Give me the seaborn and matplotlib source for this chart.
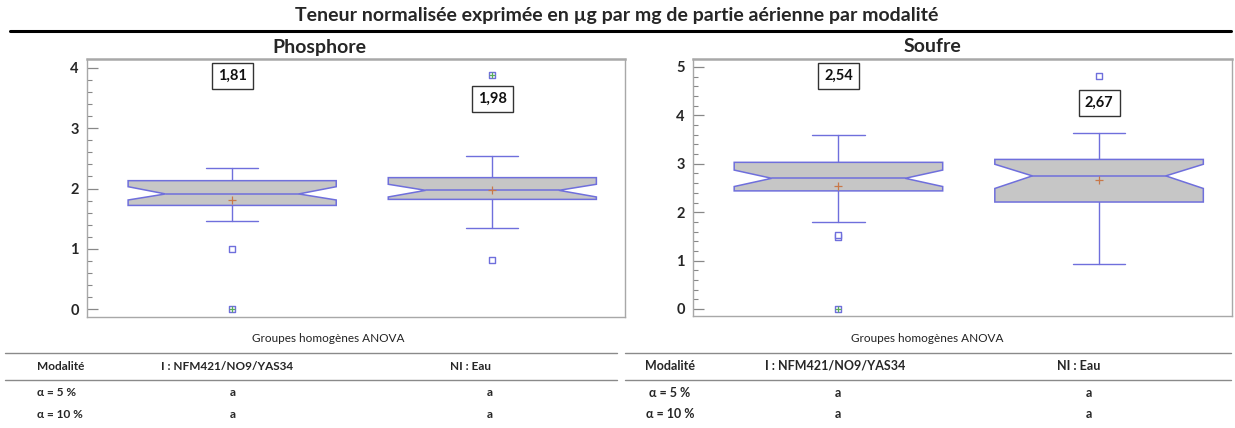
import numpy as np
import pandas as pd
import matplotlib
matplotlib.use("Agg")
import matplotlib.pyplot as plt
import seaborn as sns
from matplotlib.patches import Polygon
from matplotlib.lines import Line2D

sns.set_style("white")
plt.rcParams["font.family"] = ["Lato", "DejaVu Sans"]

# ---- data -------------------------------------------------------------
groups = ["I : NFM421/NO9/YAS34", "NI : Eau"]
positions = [1, 2]

# Phosphore
phos_q1 = [1.72, 1.82]
phos_ci_lo = [1.81, 1.86]
phos_med = [1.91, 1.97]
phos_ci_hi = [2.03, 2.07]
phos_q3 = [2.13, 2.18]
phos_whis_lo = [1.46, 1.35]
phos_whis_hi = [2.34, 2.53]
phos_mean = [1.81, 1.98]
phos_out = [[1.0], [0.82]]
phos_far = [[0.0], [3.88]]
phos_label_y = [3.86, 3.48]

# Soufre
souf_q1 = [2.44, 2.21]
souf_ci_lo = [2.53, 2.49]
souf_med = [2.70, 2.75]
souf_ci_hi = [2.87, 2.99]
souf_q3 = [3.03, 3.09]
souf_whis_lo = [1.80, 0.93]
souf_whis_hi = [3.60, 3.63]
souf_mean = [2.54, 2.67]
souf_out = [[1.48, 1.53], [4.82]]
souf_far = [[0.0], []]
souf_label_y = [4.81, 4.26]

anova_5 = ["a", "a"]
anova_10 = ["a", "a"]

# ---- styling ----------------------------------------------------------
EDGE = "#6f6fdc"
FILL = "#c6c6c6"
MEAN_C = "#c8784a"
FAR_C = "#5aac5a"
SPINE = "#a8a8a8"
BOX_W = 0.80
NOTCH = 0.32
CAP = 0.10


def notched_box(ax, x, q1, lo, med, hi, q3, wlo, whi):
    l, r = x - BOX_W / 2, x + BOX_W / 2
    nl, nr = x - BOX_W * NOTCH, x + BOX_W * NOTCH
    xs = [l, r, r, nr, r, r, l, l, nl, l]
    ys = [q1, q1, lo, med, hi, q3, q3, hi, med, lo]
    ax.add_patch(Polygon(np.column_stack([xs, ys]), closed=True,
                         fc=FILL, ec=EDGE, lw=1.1, zorder=2))
    ax.plot([nl, nr], [med, med], color=EDGE, lw=1.1, zorder=3)
    ax.plot([x, x], [q3, whi], color=EDGE, lw=1.0, zorder=1)
    ax.plot([x, x], [wlo, q1], color=EDGE, lw=1.0, zorder=1)
    ax.plot([x - CAP, x + CAP], [whi, whi], color=EDGE, lw=1.0, zorder=1)
    ax.plot([x - CAP, x + CAP], [wlo, wlo], color=EDGE, lw=1.0, zorder=1)


def panel(ax, q1, lo, med, hi, q3, wlo, whi, mean, out, far, lab_y, ylim, ymax_tick):
    for i, x in enumerate(positions):
        notched_box(ax, x, q1[i], lo[i], med[i], hi[i], q3[i], wlo[i], whi[i])
    mdf = pd.DataFrame({"x": positions, "y": mean})
    sns.scatterplot(data=mdf, x="x", y="y", marker="+", s=28, color=MEAN_C,
                    linewidth=0.9, ax=ax, zorder=4, legend=False)
    odf = pd.DataFrame([(positions[i], v) for i, vals in enumerate(out) for v in vals],
                       columns=["x", "y"])
    sns.scatterplot(data=odf, x="x", y="y", marker="s", s=22, facecolor="white",
                    edgecolor=EDGE, linewidth=1.0, ax=ax, zorder=4, legend=False)
    fdf = pd.DataFrame([(positions[i], v) for i, vals in enumerate(far) for v in vals],
                       columns=["x", "y"])
    if len(fdf):
        sns.scatterplot(data=fdf, x="x", y="y", marker="s", s=22, facecolor="white",
                        edgecolor=EDGE, linewidth=1.0, ax=ax, zorder=4, legend=False)
        sns.scatterplot(data=fdf, x="x", y="y", marker="+", s=16, color=FAR_C,
                        linewidth=0.9, ax=ax, zorder=5, legend=False)
    for i, x in enumerate(positions):
        ax.text(x, lab_y[i], f"{mean[i]:.2f}".replace(".", ","), ha="center",
                va="center", fontsize=10.5, fontweight="bold", color="#111111",
                bbox=dict(boxstyle="square,pad=0.42", fc="white", ec="#333333", lw=1.0),
                zorder=6)
    ax.set_xlim(0.442, 2.51)
    ax.set_ylim(*ylim)
    ax.set_yticks(range(0, ymax_tick + 1))
    ax.set_yticks(np.arange(0, ymax_tick + 0.01, 0.2), minor=True)
    ax.set_yticklabels([str(t) for t in range(0, ymax_tick + 1)],
                       fontweight="bold", fontsize=10.5)
    ax.set_xticks([])
    ax.set_xlabel("")
    ax.set_ylabel("")
    ax.tick_params(axis="y", which="major", direction="in", length=8, width=0.9,
                   color="#888888", pad=6, left=True)
    ax.tick_params(axis="y", which="minor", direction="in", length=3.5, width=0.8,
                   color="#888888", left=True)
    for side in ["left", "bottom", "right"]:
        ax.spines[side].set_color(SPINE)
        ax.spines[side].set_linewidth(1.0)
    ax.spines["top"].set_color(SPINE)
    ax.spines["top"].set_linewidth(1.8)


W, H = 1235, 428
fig = plt.figure(figsize=(W / 100, H / 100), dpi=100)


def fx(px):
    return px / W


def fy(py):
    return 1 - py / H


ax1 = fig.add_axes([fx(87), fy(317), fx(625 - 87), (317 - 59) / H])
ax2 = fig.add_axes([fx(693), fy(316), fx(1232 - 693), (316 - 59) / H])

panel(ax1, phos_q1, phos_ci_lo, phos_med, phos_ci_hi, phos_q3, phos_whis_lo,
      phos_whis_hi, phos_mean, phos_out, phos_far, phos_label_y, (-0.127, 4.144), 4)
panel(ax2, souf_q1, souf_ci_lo, souf_med, souf_ci_hi, souf_q3, souf_whis_lo,
      souf_whis_hi, souf_mean, souf_out, souf_far, souf_label_y, (-0.145, 5.165), 5)

# ---- titles -----------------------------------------------------------
fig.text(fx(617), fy(16), "Teneur normalisée exprimée en µg par mg de partie aérienne par modalité",
         ha="center", va="center", fontsize=14, fontweight="bold")
fig.add_artist(Line2D([fx(10), fx(1231)], [fy(31), fy(31)], color="black", lw=2.2))
fig.text(fx(319), fy(47), "Phosphore", ha="center", va="center", fontsize=14, fontweight="bold")
fig.text(fx(932), fy(47), "Soufre", ha="center", va="center", fontsize=14, fontweight="bold")

# ---- ANOVA tables -----------------------------------------------------
def table(x0, x1, anova_x, first_x, first_ha, col_x, fs):
    fig.text(fx(anova_x), fy(339), "Groupes homogènes ANOVA", ha="center", va="center",
             fontsize=8.5, color="#222222")
    for yy in (353, 380):
        fig.add_artist(Line2D([fx(x0), fx(x1)], [fy(yy), fy(yy)], color="#8a8a8a", lw=1.0))
    fig.text(fx(first_x), fy(366), "Modalité", ha=first_ha, va="center",
             fontsize=fs, fontweight="bold")
    fig.text(fx(first_x), fy(393), "α = 5 %", ha=first_ha, va="center",
             fontsize=fs, fontweight="bold")
    fig.text(fx(first_x), fy(414), "α = 10 %", ha=first_ha, va="center",
             fontsize=fs, fontweight="bold")
    for i, g in enumerate(groups):
        fig.text(fx(col_x[i][0]), fy(366), g, ha="center", va="center",
                 fontsize=fs, fontweight="bold")
        fig.text(fx(col_x[i][1]), fy(393), anova_5[i], ha="center", va="center",
                 fontsize=fs, fontweight="bold")
        fig.text(fx(col_x[i][1]), fy(414), anova_10[i], ha="center", va="center",
                 fontsize=fs, fontweight="bold")


table(5, 617, 328, 37, "left", [(227, 233), (470, 490)], 8.5)
table(625, 1231, 927, 670, "center", [(835, 838), (1079, 1089)], 9)

fig.savefig("out.png", dpi=100)
